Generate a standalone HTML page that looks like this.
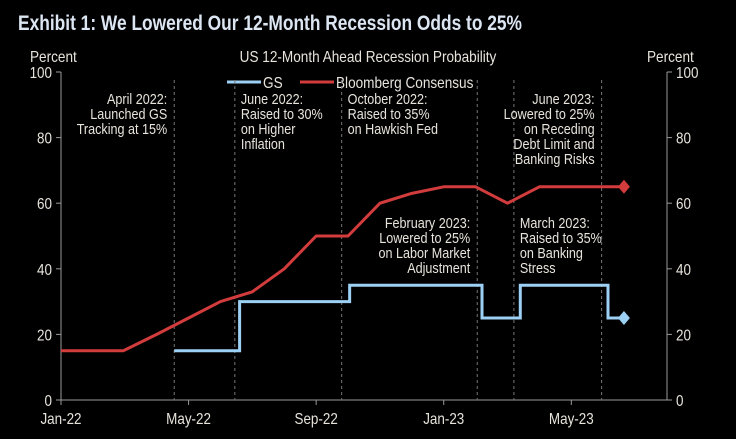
<!DOCTYPE html>
<html><head><meta charset="utf-8"><style>
html,body{margin:0;padding:0;background:#000;}
svg{display:block;font-family:"Liberation Sans Narrow","Liberation Sans",sans-serif;}
</style></head><body>
<svg id="chart" width="736" height="439" viewBox="0 0 736 439">
<text x="18" y="30" fill="#dce6f2" font-size="21" font-weight="bold" textLength="504" lengthAdjust="spacingAndGlyphs">Exhibit 1: We Lowered Our 12-Month Recession Odds to 25%</text>
<g transform="translate(30,62) scale(0.85,1)"><text x="0" y="0" fill="#e8e4dc" font-size="16">Percent</text></g>
<g transform="translate(647,62) scale(0.85,1)"><text x="0" y="0" fill="#e8e4dc" font-size="16">Percent</text></g>
<g transform="translate(368,62) scale(0.85,1)"><text x="0" y="0" fill="#e8e4dc" font-size="16" text-anchor="middle">US 12-Month  Ahead  Recession Probability</text></g>
<g>
<line x1="227" y1="82" x2="261" y2="82" stroke="#9dd0f5" stroke-width="3"/>
<g transform="translate(263,88) scale(0.85,1)"><text x="0" y="0" fill="#e8e4dc" font-size="16">GS</text></g>
<line x1="300" y1="82" x2="334" y2="82" stroke="#d23c3c" stroke-width="3"/>
<g transform="translate(336,88) scale(0.85,1)"><text x="0" y="0" fill="#e8e4dc" font-size="16">Bloomberg Consensus</text></g>
</g>
<g id="axes"></g>
<g id="events"></g>
<g id="series"></g>
</svg>
<script>
const xTickLabels = ["Jan-22","May-22","Sep-22","Jan-23","May-23"];
const xTickMonths = [0,4,8,12,16];
const yTicks = [0,20,40,60,80,100];
const bbgMonths = [0,1.95,3,4,5,6,7,8,9,10,11,12,13,14,15,16,17,17.65];
const bbgValues = [15,15,20,25,30,33,40,50,50,60,63,65,65,60,65,65,65,65];
const gsMonths = [3.55,5.6,9.05,13.2,14.4,17.15,17.65];
const gsValues = [15,30,35,25,35,25,25];
const eventMonths = [3.55,5.45,8.8,13.05,14.2,16.95];
const eventLabels = [
 ["April 2022:","Launched GS","Tracking at 15%"],
 ["June 2022:","Raised to 30%","on Higher","Inflation"],
 ["October 2022:","Raised to 35%","on Hawkish Fed"],
 ["February 2023:","Lowered to 25%","on Labor Market","Adjustment"],
 ["March 2023:","Raised to 35%","on Banking","Stress"],
 ["June 2023:","Lowered to 25%","on Receding","Debt Limit  and","Banking Risks"]];
const eventAnchor = ["end","start","start","end","start","end"];
const eventTop = [104,104,104,228,228,104];

const X0=61, X1=667, Y0=400, Y1=72;
const xs = m => X0 + (X1-X0)*m/19;
const ys = v => Y0 - (Y0-Y1)*v/100;
const NS="http://www.w3.org/2000/svg";
function mk(tag, attrs, parent){const e=document.createElementNS(NS,tag);for(const k in attrs)e.setAttribute(k,attrs[k]);parent.appendChild(e);return e;}
function ctext(x,y,size,anchor,parent){const g=mk('g',{transform:`translate(${x},${y}) scale(0.84,1)`},parent);return mk('text',{x:0,y:0,fill:"#e8e4dc",'font-size':size,'text-anchor':anchor},g);}
const axes=document.getElementById('axes'), ev=document.getElementById('events'), se=document.getElementById('series');
const ac="#9a9a9a";
let e;
e=mk('line',{x1:X0,y1:Y1,x2:X0,y2:Y0,stroke:ac,'stroke-width':1},axes);


e=mk('line',{x1:X1,y1:Y1,x2:X1,y2:Y0,stroke:ac,'stroke-width':1},axes);


e=mk('line',{x1:X0,y1:Y0,x2:X1,y2:Y0,stroke:ac,'stroke-width':1},axes);


yTicks.forEach(v=>{
 const y=ys(v);
 mk('line',{x1:X0-5,y1:y,x2:X0,y2:y,stroke:ac},axes);
 mk('line',{x1:X1,y1:y,x2:X1+5,y2:y,stroke:ac},axes);
 e=ctext(X0-9,y+6,16,'end',axes);e.textContent=v;
 
 
 e=ctext(X1+9,y+6,16,'start',axes);e.textContent=v;
 
 
});
xTickMonths.forEach((m,i)=>{
 const x=xs(m);
 mk('line',{x1:x,y1:Y0,x2:x,y2:Y0+5,stroke:ac},axes);
 e=ctext(x,Y0+24,16,'middle',axes);e.textContent=xTickLabels[i];
 
 
});
eventMonths.forEach((m,i)=>{
 const x=xs(m);
 e=mk('line',{x1:x,y1:80,x2:x,y2:Y0,stroke:"#777",'stroke-dasharray':'3,3','stroke-width':1},ev);
 
 
 const anchor=eventAnchor[i];
 const tx = anchor==='end'? x-7 : x+6;
 const t=ctext(tx,eventTop[i],15,anchor,ev);
 
 
 eventLabels[i].forEach((s,j)=>{const ts=mk('tspan',{x:0,dy:j?15:0},t);ts.textContent=s;});
});
let d=bbgMonths.map((m,i)=>(i?'L':'M')+xs(m)+','+ys(bbgValues[i])).join('');
e=mk('path',{d:d,fill:'none',stroke:'#d23c3c','stroke-width':3,'stroke-linejoin':'round'},se);


let g='';
gsMonths.forEach((m,i)=>{
 if(i===0){g+='M'+xs(m)+','+ys(gsValues[i]);}
 else{g+='L'+xs(m)+','+ys(gsValues[i-1])+'L'+xs(m)+','+ys(gsValues[i]);}
});
e=mk('path',{d:g,fill:'none',stroke:'#9dd0f5','stroke-width':3},se);


function diamond(m,v,c,name){const x=xs(m),y=ys(v);
 const p=mk('polygon',{points:`${x},${y-7} ${x+6},${y} ${x},${y+7} ${x-6},${y}`,fill:c},se);
 
 }
diamond(bbgMonths[bbgMonths.length-1],bbgValues[bbgValues.length-1],'#d23c3c','bloomberg-latest-marker');
diamond(gsMonths[gsMonths.length-1],gsValues[gsValues.length-1],'#9dd0f5','gs-latest-marker');
</script>
</body></html>
